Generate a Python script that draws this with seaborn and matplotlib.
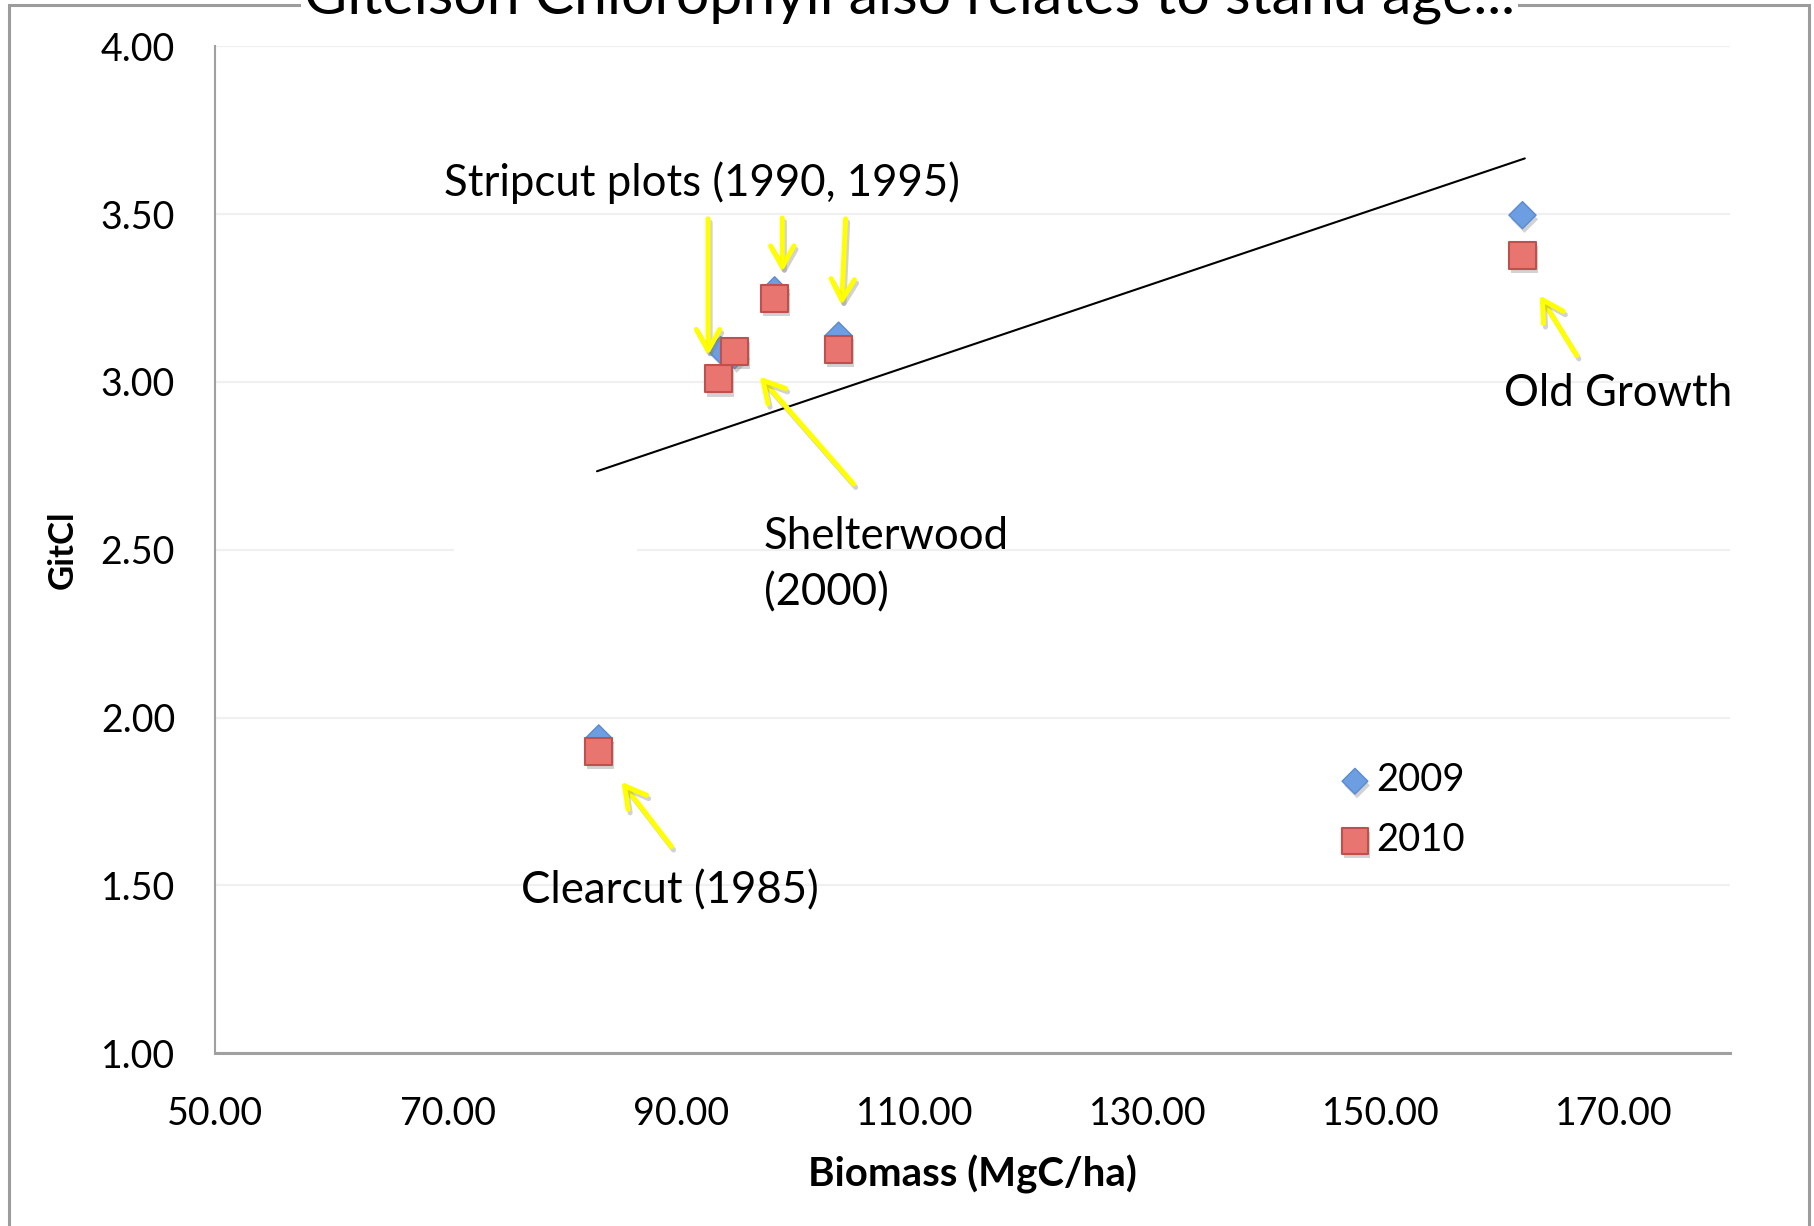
import numpy as np
import pandas as pd
import matplotlib
matplotlib.use("Agg")
import matplotlib.pyplot as plt
import matplotlib.patheffects as pe
from matplotlib.patches import Rectangle
import seaborn as sns

# Stand biomass vs. Gitelson chlorophyll index, two survey years
biomass_2009 = [82.9, 93.36, 94.56, 97.99, 103.48, 162.16]
gitcl_2009 = [1.938, 3.095, 3.08, 3.273, 3.138, 3.497]
biomass_2010 = [82.9, 93.19, 94.56, 97.99, 103.48, 162.16]
gitcl_2010 = [1.899, 3.009, 3.090, 3.250, 3.098, 3.376]

# Linear trend line end points
trend_x = [82.75, 162.36]
trend_y = [2.734, 3.666]

x_ticks = [50, 70, 90, 110, 130, 150, 170]
y_ticks = [1.0, 1.5, 2.0, 2.5, 3.0, 3.5, 4.0]

title = "Gitelson Chlorophyll also relates to stand age..."
x_label = "Biomass (MgC/ha)"
y_label = "GitCl"

# Site annotations: (text, x, y)
site_labels = [
    ("Stripcut plots (1990, 1995)", 69.65, 3.593),
    ("Shelterwood", 97.05, 2.541),
    ("(2000)", 97.05, 2.371),
    ("Old Growth", 160.59, 2.966),
    ("Clearcut (1985)", 76.21, 1.484),
]
# Arrows: (tail_x, tail_y, head_x, head_y)
arrows = [
    (92.28, 3.486, 92.28, 3.079),
    (98.65, 3.488, 98.65, 3.328),
    (104.08, 3.486, 103.74, 3.229),
    (104.77, 2.696, 96.71, 3.016),
    (89.14, 1.616, 84.85, 1.809),
    (166.82, 3.079, 163.64, 3.258),
]

sns.set_theme(style="white")
plt.rcParams["font.family"] = ["Lato", "DejaVu Sans"]
plt.rcParams["text.color"] = "black"
plt.rcParams["axes.labelcolor"] = "black"

W, H = 1815, 1226
fig = plt.figure(figsize=(W / 100, H / 100), dpi=100)
ax = fig.add_axes([215.3 / W, 1 - 1053.3 / H, (1730.4 - 215.3) / W, (1053.3 - 46.3) / H])

# Chart border
fig.patches.append(Rectangle((9 / W, -0.02), (1809 - 9) / W, 1 - 5 / H + 0.02,
                             transform=fig.transFigure, fill=False,
                             edgecolor="#9c9c9c", lw=2.2, zorder=0))

df09 = pd.DataFrame({"Biomass": biomass_2009, "GitCl": gitcl_2009})
df10 = pd.DataFrame({"Biomass": biomass_2010, "GitCl": gitcl_2010})

shadow = [pe.SimplePatchShadow(offset=(1.5, -3), shadow_rgbFace="#7f7f7f", alpha=0.35), pe.Normal()]

sns.lineplot(x=trend_x, y=trend_y, ax=ax, color="black", lw=1.5, zorder=2)
sns.scatterplot(data=df09, x="Biomass", y="GitCl", ax=ax, marker="D", s=190,
                color="#6c9ee1", edgecolor="#5a8bd2", linewidth=1.0, zorder=3,
                label="2009")
sns.scatterplot(data=df10, x="Biomass", y="GitCl", ax=ax, marker="s", s=380,
                color="#e97571", edgecolor="#c0504d", linewidth=1.5, zorder=4,
                label="2010")
for coll in ax.collections:
    coll.set_path_effects(shadow)

ax.set_xlim(50, 180)
ax.set_ylim(1, 4)
ax.set_xticks(x_ticks)
ax.set_xticklabels([f"{v:.2f}" for v in x_ticks])
ax.set_yticks(y_ticks)
ax.set_yticklabels([f"{v:.2f}" for v in y_ticks])
ax.yaxis.grid(True, color="#f0f0f0", lw=1.6)
ax.xaxis.grid(False)
ax.set_axisbelow(True)
for s in ("top", "right"):
    ax.spines[s].set_visible(False)
ax.spines["left"].set_color("#a0a0a0")
ax.spines["left"].set_linewidth(1.5)
ax.spines["bottom"].set_color("#a0a0a0")
ax.spines["bottom"].set_linewidth(2.2)
ax.tick_params(axis="both", direction="out", length=9, width=1.5, color="#a0a0a0",
               labelsize=27, labelcolor="black")
ax.tick_params(axis="y", pad=20)
ax.tick_params(axis="x", pad=22)
ax.set_xlabel(x_label, fontsize=29, fontweight="bold", labelpad=16, color="black")
ax.set_ylabel(y_label, fontsize=25, fontweight="bold", labelpad=16, color="black")

# Blank text box covering part of the 2.50 grid line
ax.add_patch(Rectangle((70.5, 2.45), 15.7, 0.1, facecolor="white", edgecolor="none", zorder=1.5))

for txt, tx, ty in site_labels:
    ax.text(tx, ty, txt, fontsize=31.5, ha="left", va="center", color="black", zorder=5)

arrow_fx = [pe.SimpleLineShadow(offset=(1.5, -2.5), shadow_color="#808080", alpha=0.35), pe.Normal()]
for x0, y0, x1, y1 in arrows:
    ann = ax.annotate("", xy=(x1, y1), xytext=(x0, y0),
                      arrowprops=dict(arrowstyle="->,head_length=0.75,head_width=0.42",
                                      color="#ffff00", lw=3.6, mutation_scale=20,
                                      shrinkA=0, shrinkB=0), zorder=6)
    ann.arrow_patch.set_path_effects(arrow_fx)

leg = ax.legend(loc="upper left", bbox_to_anchor=(0.727, 0.308), frameon=False,
                fontsize=27.5, handletextpad=0.05, labelspacing=0.62, borderpad=0,
                handlelength=1.0, markerscale=0.95)
for t in leg.get_texts():
    t.set_color("black")

fig.text(0.501, 1 - 13 / H, title, ha="center", va="baseline", fontsize=42.5,
         color="black", bbox=dict(facecolor="white", edgecolor="none", pad=2), zorder=10)

fig.savefig("out.png", dpi=100)
